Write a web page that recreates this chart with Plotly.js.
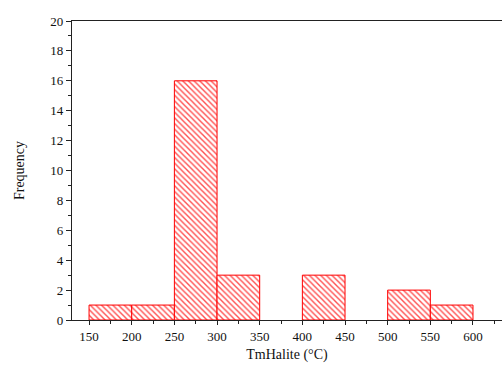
<!DOCTYPE html>
<html>
<head>
<meta charset="utf-8">
<script src="https://cdn.plot.ly/plotly-3.0.1.min.js"></script>
<style>html,body{margin:0;padding:0;background:#fff;}#chart{width:502px;height:365px;}</style>
</head>
<body>
<div id="chart"></div>
<script>
const binStarts = [150, 200, 250, 300, 350, 400, 450, 500, 550];
const counts = [1, 1, 16, 3, 0, 3, 0, 2, 1];
const xTickVals = [150, 200, 250, 300, 350, 400, 450, 500, 550, 600];
const xTickLabels = ["150", "200", "250", "300", "350", "400", "450", "500", "550", "600"];
const binWidth = 50;

const trace = {
  type: 'bar',
  x: binStarts,
  y: counts,
  width: binStarts.map(() => binWidth),
  offset: 0,
  marker: {
    color: 'rgba(0,0,0,0)',
    line: {color: '#ff0000', width: counts.map(c => c > 0 ? 1 : 0)},
    pattern: {shape: '\\', fgcolor: '#ff5050', bgcolor: '#ffffff', size: 4, solidity: 0.35, fillmode: 'replace'}
  },
  hoverinfo: 'x+y'
};

const fam = '"Liberation Serif", "Times New Roman", serif';
const font = {family: fam, size: 13, color: '#111'};

const layout = {
  width: 502, height: 365,
  margin: {l: 72, r: 0, t: 21, b: 45},
  paper_bgcolor: '#fff', plot_bgcolor: '#fff',
  showlegend: false,
  font: font,
  bargap: 0,
  xaxis: {
    range: [130, 634],
    tickvals: xTickVals, ticktext: xTickLabels,
    ticks: 'outside', ticklen: 4, tickwidth: 1, tickcolor: '#222',
    minor: {ticks: 'outside', dtick: 25, tick0: 0, ticklen: 3, tickcolor: '#222', showgrid: false},
    showline: true, linecolor: '#222', linewidth: 1.2, mirror: true,
    showgrid: false, zeroline: false,
    tickfont: font,
    title: {text: 'TmHalite (°C)', font: {family: fam, size: 14, color: '#111'}, standoff: 6}
  },
  yaxis: {
    range: [0, 20],
    dtick: 2, tick0: 0,
    ticks: 'outside', ticklen: 5, tickwidth: 1, tickcolor: '#222',
    minor: {ticks: 'outside', dtick: 1, ticklen: 3, tickcolor: '#222', showgrid: false},
    showline: true, linecolor: '#222', linewidth: 1.2,
    showgrid: false, zeroline: false,
    tickfont: font,
    title: {text: 'Frequency', font: {family: fam, size: 14, color: '#111'}, standoff: 22}
  }
};

Plotly.newPlot('chart', [trace], layout, {displayModeBar: false, staticPlot: true});
</script>
</body>
</html>
